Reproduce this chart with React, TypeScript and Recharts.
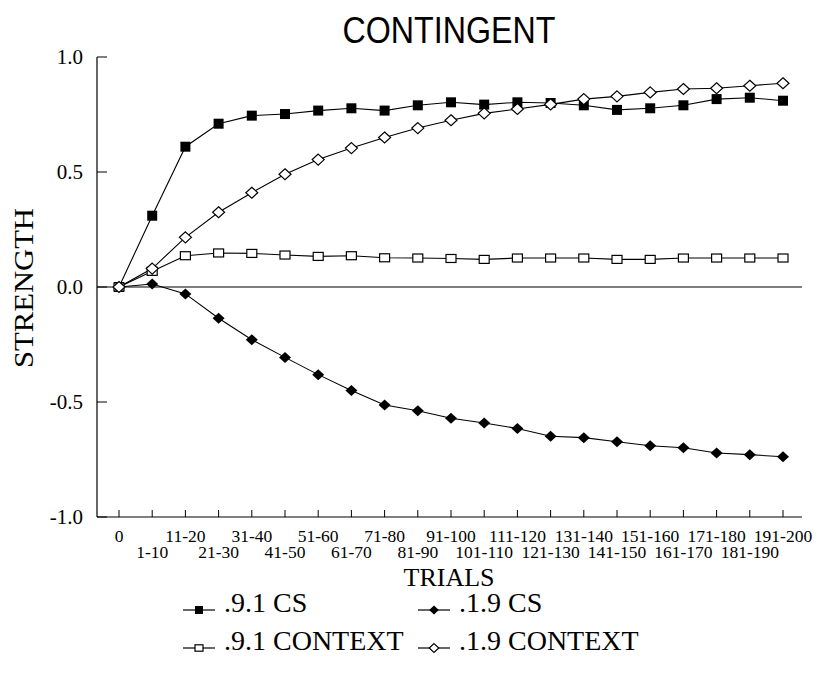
import { LineChart, Line, XAxis, YAxis, ReferenceLine, Legend } from "recharts";

const trials = [
  "0", "1-10", "11-20", "21-30", "31-40", "41-50", "51-60", "61-70", "71-80", "81-90",
  "91-100", "101-110", "111-120", "121-130", "131-140", "141-150", "151-160", "161-170",
  "171-180", "181-190", "191-200",
];

const cs91 = [0, 0.31, 0.61, 0.71, 0.745, 0.752, 0.767, 0.777, 0.767, 0.79, 0.803, 0.793, 0.803, 0.8, 0.79, 0.77, 0.777, 0.79, 0.817, 0.823, 0.81];
const cs19 = [0, 0.013, -0.03, -0.136, -0.229, -0.306, -0.381, -0.45, -0.513, -0.538, -0.571, -0.591, -0.615, -0.649, -0.655, -0.673, -0.69, -0.699, -0.722, -0.729, -0.738];
const context91 = [0, 0.068, 0.136, 0.148, 0.146, 0.139, 0.133, 0.136, 0.127, 0.126, 0.124, 0.12, 0.126, 0.126, 0.126, 0.12, 0.12, 0.126, 0.126, 0.126, 0.126];
const context19 = [0, 0.08, 0.216, 0.325, 0.41, 0.49, 0.554, 0.604, 0.65, 0.691, 0.725, 0.755, 0.774, 0.794, 0.817, 0.829, 0.846, 0.861, 0.864, 0.875, 0.886];

const yTicks = [-1, -0.5, 0, 0.5, 1];

const data = trials.map((trial, i) => ({
  trial,
  cs91: cs91[i],
  cs19: cs19[i],
  context91: context91[i],
  context19: context19[i],
}));

const SERIF = '"Liberation Serif", "Times New Roman", serif';
const SANS = '"Liberation Sans", Arial, sans-serif';

type Shape = "square" | "diamond" | "openSquare" | "openDiamond";

const series: { key: string; name: string; shape: Shape }[] = [
  { key: "cs91", name: ".9.1 CS", shape: "square" },
  { key: "cs19", name: ".1.9 CS", shape: "diamond" },
  { key: "context91", name: ".9.1 CONTEXT", shape: "openSquare" },
  { key: "context19", name: ".1.9 CONTEXT", shape: "openDiamond" },
];

function MarkerShape({ shape, cx, cy, scale = 1 }: { shape: Shape; cx: number; cy: number; scale?: number }) {
  if (shape === "square") {
    const s = 10 * scale;
    return <rect x={cx - s / 2} y={cy - s / 2} width={s} height={s} fill="#000" />;
  }
  if (shape === "openSquare") {
    const w = 10 * scale;
    const h = 8 * scale;
    return <rect x={cx - w / 2} y={cy - h / 2} width={w} height={h} fill="#fff" stroke="#000" strokeWidth={1.2} />;
  }
  const w = (12 * scale) / 2;
  const h = (11 * scale) / 2;
  const pts = `${cx},${cy - h} ${cx + w},${cy} ${cx},${cy + h} ${cx - w},${cy}`;
  return shape === "diamond" ? (
    <polygon points={pts} fill="#000" />
  ) : (
    <polygon points={pts} fill="#fff" stroke="#000" strokeWidth={1.2} />
  );
}

function TrialTick({ x, y, payload, index }: any) {
  const lower = index % 2 === 1;
  return (
    <text x={x} y={y + (lower ? 41 : 25)} textAnchor="middle" fontFamily={SERIF} fontSize={17.5} fill="#000">
      {payload.value}
    </text>
  );
}

function LegendBox() {
  return (
    <svg width={814} height={85}>
      {series.map((s, i) => {
        const col = i % 2;
        const row = Math.floor(i / 2);
        const x0 = col === 0 ? 183 : 418;
        const base = 32 + row * 38;
        return (
          <g key={s.key}>
            <line x1={x0} x2={x0 + 32} y1={base - 2} y2={base - 2} stroke="#000" strokeWidth={1.2} />
            <MarkerShape shape={s.shape} cx={x0 + 16} cy={base - 2} scale={0.8} />
            <text x={x0 + 41} y={base} fontFamily={SERIF} fontSize={28} fill="#000">
              {s.name}
            </text>
          </g>
        );
      })}
    </svg>
  );
}

export default function App() {
  return (
    <div style={{ position: "absolute", left: 0, top: 0, width: 814, height: 675, background: "#fff" }}>
      <LineChart width={814} height={675} data={data} margin={{ top: 57, right: 12, left: 37, bottom: 98 }}>
        <text
          x={449}
          y={43}
          textAnchor="middle"
          fontFamily={SANS}
          fontSize={36}
          fill="#000"
          textLength={213}
          lengthAdjust="spacingAndGlyphs"
        >
          CONTINGENT
        </text>
        <text
          x={23}
          y={288}
          transform="rotate(-90, 23, 288)"
          textAnchor="middle"
          dominantBaseline="central"
          fontFamily={SERIF}
          fontSize={28}
          fill="#000"
          textLength={160}
          lengthAdjust="spacingAndGlyphs"
        >
          STRENGTH
        </text>
        <text x={449} y={586} textAnchor="middle" fontFamily={SERIF} fontSize={26} fill="#000">
          TRIALS
        </text>
        <XAxis
          dataKey="trial"
          interval={0}
          padding={{ left: 22, right: 19 }}
          height={60}
          tickSize={-7}
          tickMargin={7}
          tick={<TrialTick />}
          axisLine={{ stroke: "#000", strokeWidth: 1.2 }}
          tickLine={{ stroke: "#000" }}
        />
        <XAxis xAxisId="top" dataKey="trial" orientation="top" height={0} tick={false} tickLine={false} axisLine={{ stroke: "#000", strokeWidth: 1.2 }} />
        <YAxis
          domain={[-1, 1]}
          ticks={yTicks}
          interval={0}
          width={60}
          tickSize={-10}
          tickMargin={24}
          tickFormatter={(v: number) => v.toFixed(1)}
          tick={{ fill: "#000", fontSize: 21, fontFamily: SERIF }}
          axisLine={{ stroke: "#000", strokeWidth: 1.2 }}
          tickLine={{ stroke: "#000" }}
        />
        <YAxis yAxisId="right" orientation="right" domain={[-1, 1]} width={0} tick={false} tickLine={false} axisLine={{ stroke: "#000", strokeWidth: 1.2 }} />
        <ReferenceLine y={0} stroke="#000" strokeWidth={1.2} />
        {series.map((s) => (
          <Line
            key={s.key}
            dataKey={s.key}
            name={s.name}
            type="linear"
            stroke="#000"
            strokeWidth={1.1}
            isAnimationActive={false}
            dot={(p: any) => <MarkerShape key={`${s.key}-${p.index}`} shape={s.shape} cx={p.cx} cy={p.cy} />}
            activeDot={false}
          />
        ))}
        <Legend
          layout="horizontal"
          verticalAlign="middle"
          align="center"
          wrapperStyle={{ top: 580, left: 0, width: 814, height: 85 }}
          content={() => <LegendBox />}
        />
      </LineChart>
    </div>
  );
}
